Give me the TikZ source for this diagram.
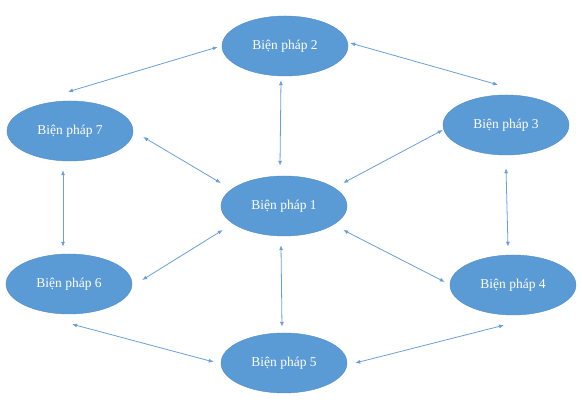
\documentclass[tikz,border=0pt]{standalone}
\usepackage{fontspec}
\setmainfont{Liberation Serif}
\usetikzlibrary{shapes.geometric,arrows.meta}
\definecolor{ebl}{HTML}{5B9BD5}
\definecolor{edg}{HTML}{4F8CC6}
\definecolor{lnc}{HTML}{6A9FD6}
\begin{document}
\begin{tikzpicture}[x=1pt,y=1pt,
  ell/.style={ellipse,fill=ebl,draw=edg,line width=0.4pt,minimum width=126pt,minimum height=60pt,inner sep=0pt,text=white,font=\fontsize{13.5}{16}\selectfont},
  conn/.style={draw=lnc,line width=0.8pt,{Latex[length=5pt,width=4pt]}-{Latex[length=5pt,width=4pt]}}]
\useasboundingbox (0,0) rectangle (582,403);
\node[ell] (e2) at (285,357) {Biện pháp 2};
\node[ell] (e7) at (70,272) {Biện pháp 7};
\node[ell] (e3) at (506,278) {Biện pháp 3};
\node[ell] (e1) at (284,197) {Biện pháp 1};
\node[ell] (e6) at (69,119) {Biện pháp 6};
\node[ell] (e4) at (513,118) {Biện pháp 4};
\node[ell] (e5) at (284,40) {Biện pháp 5};
\draw[conn] ([shift={(-4,-1)}]e2.west) -- ([shift={(-2,9)}]e7.north);
\draw[conn] ([shift={(2,3)}]e2.east) -- ([shift={(-8,10)}]e3.north);
\draw[conn] ([shift={(-4,-4)}]e2.south) -- ([shift={(-4,10)}]e1.north);
\draw[conn] ([shift={(10,-6)}]e7.east) -- ([shift={(0,23)}]e1.west);
\draw[conn] ([shift={(0,-5)}]e3.west) -- ([shift={(-4,23)}]e1.east);
\draw[conn] ([shift={(-7,-9)}]e7.south) -- ([shift={(-6,7)}]e6.north);
\draw[conn] ([shift={(0,-13)}]e3.south) -- ([shift={(-5,8)}]e4.north);
\draw[conn] ([shift={(2,-24)}]e1.west) -- ([shift={(10,4)}]e6.east);
\draw[conn] ([shift={(-4,-24)}]e1.east) -- ([shift={(-5,3)}]e4.west);
\draw[conn] ([shift={(-3,-9)}]e1.south) -- ([shift={(-2,6)}]e5.north);
\draw[conn] ([shift={(3,-10)}]e6.south) -- ([shift={(-7,1)}]e5.west);
\draw[conn] ([shift={(-9,-10)}]e4.south) -- ([shift={(8,0)}]e5.east);
\end{tikzpicture}
\end{document}
